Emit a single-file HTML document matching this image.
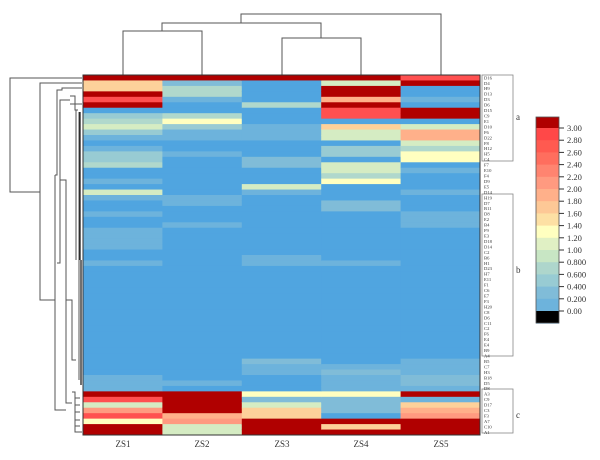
<!DOCTYPE html>
<html><head><meta charset="utf-8">
<style>
html,body{margin:0;padding:0;background:#fff;}
svg{display:block;font-family:"Liberation Serif",serif;}
</style></head>
<body>
<svg id="s" width="600" height="460" viewBox="0 0 600 460" xmlns="http://www.w3.org/2000/svg">
<g id="hm"></g>
<g stroke="#555" stroke-width="1" fill="none">
<path d="M123,75V31H202V75"/>
<path d="M282,75V38H361V75"/>
<path d="M162,31V23H321V38"/>
<path d="M241,23V14H441V75"/>
<path d="M82,78H10V192H40"/>
<path d="M82,83H40V300H55"/>
<path d="M55,175V410H62"/>
<path d="M55,175H57V90H62V88H82"/>
<path d="M57,263H60V100H70"/>
<path d="M60,180H66V403H72"/>
<path d="M72,392H75V432H82"/>
<path d="M75,398H80M75,405H80M75,412H80M75,420H80M75,426H80"/>
<path d="M62,410H66"/>
<path d="M70,96H75V110H78M70,104H82"/>
<path d="M76,110V260M79,112V380"/>
<path d="M66,300H72V360H76"/>
</g>
<g stroke="#111" stroke-width="1.2">
<path d="M80,112V260"/>
<path d="M81,260V385"/>
</g>
<rect x="83" y="75" width="397" height="360" fill="none" stroke="#333" stroke-width="1"/>
<g fill="none" stroke="#888" stroke-width="0.8">
<rect x="482" y="75" width="31" height="86"/>
<rect x="482" y="194" width="31" height="162"/>
<rect x="482" y="389" width="31" height="44"/>
</g>
<g font-size="9" fill="#333">
<text x="516" y="120">a</text>
<text x="516" y="273">b</text>
<text x="516" y="418">c</text>
</g>
<g id="rl" font-size="4.6" fill="#333"></g>
<g font-size="9" fill="#333" text-anchor="middle">
<text x="123" y="447">ZS1</text>
<text x="202" y="447">ZS2</text>
<text x="282" y="447">ZS3</text>
<text x="361" y="447">ZS4</text>
<text x="441" y="447">ZS5</text>
</g>
<g id="cb"></g>
</svg>
<script>
(function(){
var P={R:"#b00000",r:"#ff5050",s:"#ff9a80",q:"#ffb08a",p:"#fdd19a",y:"#ffffc0",g:"#d5ecc3",t:"#b0d8cc",c:"#98cbd3",k:"#80bcd8",l:"#6db3dc",b:"#50a5e0"};
function rep(c,n){return new Array(n+1).join(c);}
var cols=[
"RppRrRbctgclblcctbblbgl"+"bb"+"l"+"bb"+"llll"+"bb"+"l"+rep("b",20)+"lll"+"RrgsryRR",
"Rkttlbbtycllbbl"+rep("b",7)+"ll"+"bbb"+"l"+rep("b",28)+"l"+"b"+"RRRR"+"qsgg",
"R"+"bbbb"+"t"+"bbb"+"lll"+"bbb"+"kk"+"bbb"+"g"+"l"+rep("b",11)+"ll"+rep("b",17)+"kll"+"bbb"+"ykgpp"+"RRR",
"RgRRqRrrbpggbccbggtybbb"+"kk"+rep("b",9)+"l"+rep("b",18)+"lklll"+"ykkkb"+"RpR",
"rRbblbRRbgqqgtyybl"+"bbb"+"l"+"bbb"+"lll"+rep("b",24)+"lll"+"kkl"+"Rlpqs"+"RRR"];
var ns="http://www.w3.org/2000/svg";
var hm=document.getElementById("hm");
var x0=83,w=397/5,y0=75,h=360/66;
for(var c=0;c<5;c++){for(var i=0;i<66;i++){var e=document.createElementNS(ns,"rect");
e.setAttribute("x",x0+c*w);e.setAttribute("y",y0+i*h);e.setAttribute("width",w+0.5);e.setAttribute("height",h+0.5);
e.setAttribute("fill",P[cols[c][i]]||P.b);hm.appendChild(e);}}
var labs="D16 D4 H9 D13 D3 D6 D15 C9 E1 D10 F6 D22 F8 H12 H5 C4 F7 E10 F4 D9 E5 D14 H19 D7 B11 D8 E2 B4 F9 E3 D18 D14 C2 B6 H1 D23 H7 E11 F1 C6 E7 F3 H20 C8 D6 C11 C2 F6 E4 E4 B9 A4 B5 C7 H3 B18 D5 D8 A3 C9 D17 C3 F3 A7 C10 A1".split(" ");
var rl=document.getElementById("rl");
for(var i=0;i<66;i++){var t=document.createElementNS(ns,"text");t.setAttribute("x",484);t.setAttribute("y",y0+i*h+4.3);t.textContent=labs[i];rl.appendChild(t);}
var cb=document.getElementById("cb");
var cbc=["#b00000","#ff4848","#ff5a50","#ff6e5e","#ff8470","#ff9a80","#ffb08a","#fdc896","#fde0a4","#ffffc0","#e0f0c4","#c8e6c4","#aed6cc","#98cbd3","#80bcd8","#6db3dc","#50a5e0"];
var cbTop=117;
var yy=cbTop;
for(var i=0;i<cbc.length;i++){var hh=(i==0)?11:12.2;var e=document.createElementNS(ns,"rect");
e.setAttribute("x",536);e.setAttribute("y",yy);e.setAttribute("width",23);e.setAttribute("height",hh+0.4);e.setAttribute("fill",cbc[i]);cb.appendChild(e);yy+=hh;}
var e=document.createElementNS(ns,"rect");e.setAttribute("x",536);e.setAttribute("y",311);e.setAttribute("width",23);e.setAttribute("height",12);e.setAttribute("fill","#000");cb.appendChild(e);
e=document.createElementNS(ns,"rect");e.setAttribute("x",536);e.setAttribute("y",117);e.setAttribute("width",23);e.setAttribute("height",206);e.setAttribute("fill","none");e.setAttribute("stroke","#555");e.setAttribute("stroke-width","0.8");cb.appendChild(e);
var tl=["3.00","2.80","2.60","2.40","2.20","2.00","1.80","1.60","1.40","1.20","1.00","0.800","0.600","0.400","0.200","0.00"];
for(var i=0;i<16;i++){var y=128+i*(311-128)/15;
var l=document.createElementNS(ns,"line");l.setAttribute("x1",559);l.setAttribute("x2",564);l.setAttribute("y1",y);l.setAttribute("y2",y);l.setAttribute("stroke","#333");cb.appendChild(l);
var t=document.createElementNS(ns,"text");t.setAttribute("x",567);t.setAttribute("y",y+3);t.setAttribute("font-size","8.5");t.setAttribute("fill","#333");t.textContent=tl[i];cb.appendChild(t);}
})();
</script>
</body></html>
